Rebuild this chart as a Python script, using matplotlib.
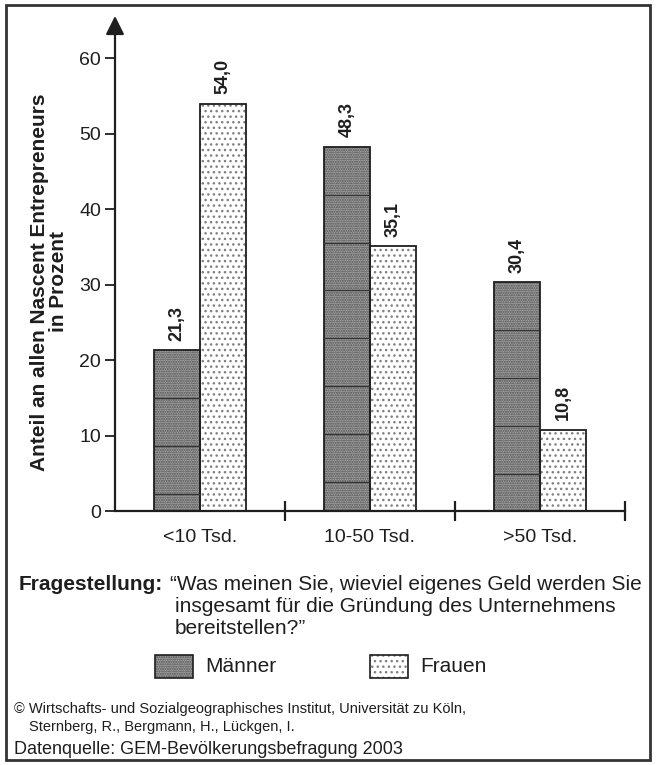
import matplotlib
matplotlib.use("Agg")
import matplotlib.pyplot as plt
from matplotlib.patches import Rectangle
import numpy as np

plt.rcParams['font.family'] = ['Liberation Sans', 'DejaVu Sans']

categories = ["<10 Tsd.", "10-50 Tsd.", ">50 Tsd."]
maenner = [21.3, 48.3, 30.4]
frauen = [54.0, 35.1, 10.8]
maenner_labels = ["21,3", "48,3", "30,4"]
frauen_labels = ["54,0", "35,1", "10,8"]
yticks = [0, 10, 20, 30, 40, 50, 60]

W, H = 656, 765
fig = plt.figure(figsize=(W / 100, H / 100), dpi=100)

def px(x, y):
    return (x / W, 1 - y / H)

ax = fig.add_axes([115 / W, 1 - 511 / H, 510 / W, 489 / H])
ax.set_xlim(-0.5, 2.5)
ax.set_ylim(0, 64.8)

bw = 0.27
x = np.arange(len(categories))
dark = '#1e1e1e'
plt.rcParams['hatch.linewidth'] = 1.0

m_face = dict(facecolor='#a0a0a0', hatch='.......', edgecolor='#505050', linewidth=0)
f_face = dict(facecolor='white', hatch='...', edgecolor='#808080', linewidth=0)

# Männer bars
ax.bar(x - bw / 2, maenner, bw, zorder=2, **m_face)
ax.bar(x - bw / 2, maenner, bw, fill=False, edgecolor=dark, linewidth=1.3, zorder=3)
# Frauen bars
ax.bar(x + bw / 2, frauen, bw, zorder=2, **f_face)
ax.bar(x + bw / 2, frauen, bw, fill=False, edgecolor=dark, linewidth=1.3, zorder=3)

# horizontal tile seams inside Männer bars
step = 6.36
for xi, v in zip(x, maenner):
    yy = v - step
    while yy > 0:
        ax.plot([xi - bw, xi], [yy, yy], color='#333333', lw=0.9, zorder=3)
        yy -= step

# value labels
for xi, v, t in zip(x, maenner, maenner_labels):
    ax.text(xi - bw / 2, v + 1.2, t, rotation=90, ha='center', va='bottom',
            fontsize=13, fontweight='bold', color=dark)
for xi, v, t in zip(x, frauen, frauen_labels):
    ax.text(xi + bw / 2, v + 1.2, t, rotation=90, ha='center', va='bottom',
            fontsize=13, fontweight='bold', color=dark)

# axes styling
for s in ['top', 'right', 'left']:
    ax.spines[s].set_visible(False)
ax.spines['bottom'].set_color(dark)
ax.spines['bottom'].set_linewidth(1.6)
ax.annotate('', xy=(-0.5, 65.6), xytext=(-0.5, 0), xycoords='data',
            arrowprops=dict(arrowstyle='-|>', color=dark, lw=1.6, mutation_scale=28,
                            shrinkA=0, shrinkB=0), annotation_clip=False)

ax.set_yticks(yticks)
ax.set_yticklabels([str(t) for t in yticks])
ax.tick_params(axis='y', direction='out', length=7, width=1.3, color=dark,
               labelsize=14, labelcolor=dark, pad=3)
ax.set_xticks(x)
ax.set_xticklabels(categories)
ax.tick_params(axis='x', which='major', length=0, labelsize=14, labelcolor=dark, pad=13)
ax.set_xticks([0.5, 1.5, 2.5], minor=True)
ax.tick_params(axis='x', which='minor', direction='inout', length=15, width=1.6, color=dark)

# y label
fig.text(*px(49, 282), "Anteil an allen Nascent Entrepreneurs\nin Prozent", rotation=90,
         ha='center', va='center', fontsize=15, fontweight='bold', color=dark,
         multialignment='center', linespacing=1.05)

# question text
fig.text(*px(19, 585), "Fragestellung:", ha='left', va='center', fontsize=15,
         fontweight='bold', color=dark)
fig.text(*px(170, 585), "\u201cWas meinen Sie, wieviel eigenes Geld werden Sie", ha='left',
         va='center', fontsize=15, color=dark)
fig.text(*px(175, 607), "insgesamt f\u00fcr die Gr\u00fcndung des Unternehmens", ha='left',
         va='center', fontsize=15, color=dark)
fig.text(*px(175, 629), "bereitstellen?\u201d", ha='left', va='center', fontsize=15, color=dark)

# legend
lw_, lh_ = 38 / W, 23 / H
lx0, ly0 = px(155, 678)
fig.patches.append(Rectangle((lx0, ly0), lw_, lh_, transform=fig.transFigure, **m_face))
fig.patches.append(Rectangle((lx0, ly0), lw_, lh_, transform=fig.transFigure,
                             fill=False, edgecolor=dark, linewidth=1.2))
fx0, fy0 = px(370, 678)
fig.patches.append(Rectangle((fx0, fy0), lw_, lh_, transform=fig.transFigure, **f_face))
fig.patches.append(Rectangle((fx0, fy0), lw_, lh_, transform=fig.transFigure,
                             fill=False, edgecolor=dark, linewidth=1.2))
fig.text(*px(205, 667), "M\u00e4nner", ha='left', va='center', fontsize=15, color=dark)
fig.text(*px(420, 667), "Frauen", ha='left', va='center', fontsize=15, color=dark)

# footer
fig.text(*px(14, 709), "\u00a9 Wirtschafts- und Sozialgeographisches Institut, Universit\u00e4t zu K\u00f6ln,",
         ha='left', va='center', fontsize=10.5, color=dark)
fig.text(*px(29, 727), "Sternberg, R., Bergmann, H., L\u00fcckgen, I.",
         ha='left', va='center', fontsize=10.5, color=dark)
fig.text(*px(14, 749), "Datenquelle: GEM-Bev\u00f6lkerungsbefragung 2003",
         ha='left', va='center', fontsize=13, color=dark)

# outer border
fig.patches.append(Rectangle((6 / W, 1 - 760 / H), 644 / W, 755 / H, transform=fig.transFigure,
                             fill=False, edgecolor='#333333', linewidth=2))

fig.savefig("out.png", dpi=100)
